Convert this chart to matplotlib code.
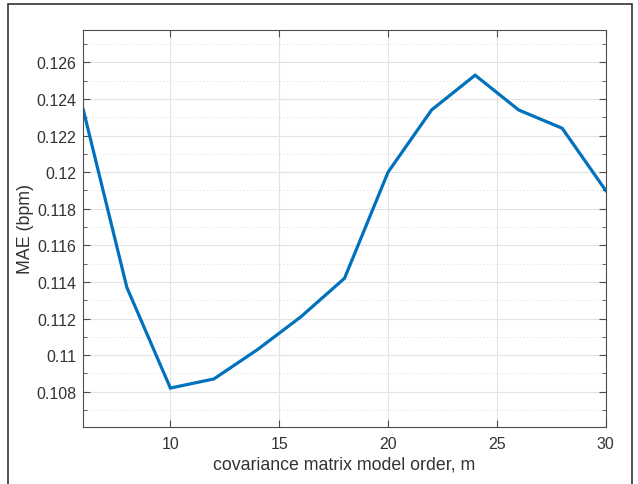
import matplotlib.pyplot as plt
from matplotlib.patches import Rectangle
from matplotlib.ticker import FuncFormatter, MultipleLocator

plt.rcParams.update({
    "font.family": ["Liberation Sans", "DejaVu Sans"],
    "font.size": 10,
    "xtick.direction": "in",
    "ytick.direction": "in",
    "xtick.top": True,
    "ytick.right": True,
})

# model order m vs mean absolute error (bpm)
order = [6, 8, 10, 12, 14, 16, 18, 20, 22, 24, 26, 28, 30]
mae = [0.1234, 0.1137, 0.1082, 0.1087, 0.1103, 0.1121, 0.1142,
       0.1200, 0.1234, 0.1253, 0.1234, 0.1224, 0.1190]

xticks = [10, 15, 20, 25, 30]

axcol = "#4d4d4d"
txtcol = "#333333"

fig = plt.figure(figsize=(6.38, 4.85), dpi=100)
ax = fig.add_axes([0.1306, 0.1182, 0.8188, 0.8179])

# outer frame around the figure
fig.add_artist(Rectangle((0.012, -0.05), 0.978, 1.04, transform=fig.transFigure,
                         fill=False, edgecolor="#333333", lw=1.2))

ax.plot(order, mae, color="#0072BD", lw=2.3, solid_joinstyle="miter")

ax.set_xlim(6, 30)
ax.set_ylim(0.10609, 0.12777)
ax.set_xticks(xticks)
ax.yaxis.set_major_locator(MultipleLocator(0.002))
ax.yaxis.set_minor_locator(MultipleLocator(0.001))
ax.yaxis.set_major_formatter(FuncFormatter(lambda v, p: f"{v:g}"))

ax.grid(True, which="major", color="#e3e3e3", lw=0.8)
ax.grid(True, which="minor", axis="y", color="#cfcfcf", lw=0.6, ls=(0, (1, 3)))
ax.set_axisbelow(True)

for s in ax.spines.values():
    s.set_color(axcol)
    s.set_linewidth(0.8)
ax.tick_params(which="both", colors=axcol, labelcolor=txtcol, labelsize=11.5)
ax.tick_params(which="major", length=5, width=0.8)
ax.tick_params(which="minor", length=3, width=0.6)
ax.tick_params(axis="x", pad=7)
ax.tick_params(axis="y", pad=5)

ax.set_xlabel("covariance matrix model order, m", fontsize=12.8, color=txtcol, labelpad=3)
ax.set_ylabel("MAE (bpm)", fontsize=12.8, color=txtcol)
ax.yaxis.set_label_coords(-0.094, 0.5)

fig.savefig("out.png", dpi=100)
